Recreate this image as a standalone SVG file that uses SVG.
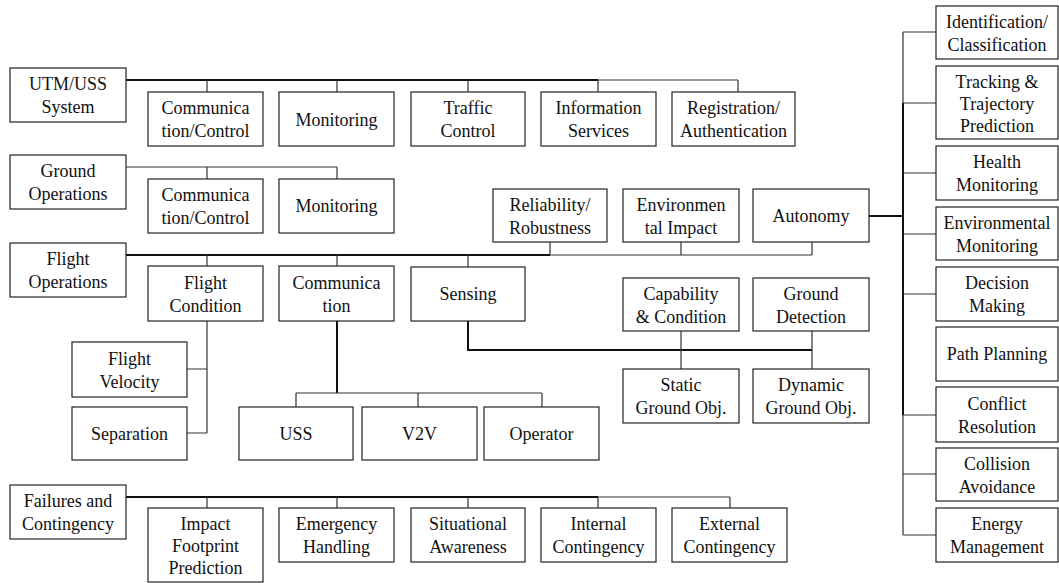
<svg xmlns="http://www.w3.org/2000/svg" width="1059" height="583" viewBox="0 0 1059 583">
<style>
rect{fill:#fff;stroke:#222;stroke-width:1.2}
.bus{fill:none;stroke:#111;stroke-width:2}
.thin{fill:none;stroke:#333;stroke-width:1.2}
</style>
<rect x="0" y="0" width="1059" height="583" style="fill:#fff;stroke:none"/>
<g id="connectors">
<path class="bus" d="M126,80H598"/><path class="thin" d="M598,80H738M207,80V92M337,80V92M468,80V92M598,80V92M738,80V92"/>
<path class="thin" d="M126,167H337M207,167V179M337,167V179"/>
<path class="bus" d="M126,255H550"/><path class="thin" d="M550,255H812M207,255V266M337,255V266M468,255V267M550,255V242M681,255V242M812,255V242"/>
<path class="thin" d="M207,321V433M187,369H207M187,433H207"/>
<path class="bus" d="M337,321V393"/><path class="thin" d="M296,393H542M296,393V407M418,393V407M542,393V407"/>
<path class="bus" d="M468,321V350H812"/><path class="thin" d="M681,331V369M812,331V369"/>
<path class="bus" d="M869,216H903M903,103V415"/><path class="thin" d="M903,32V103M903,415V535M903,32H936M903,103H936M903,173H936M903,234H936M903,294H936M903,415H936M903,474H936M903,535H936"/>
<path class="bus" d="M126,497H598"/><path class="thin" d="M598,497H730M207,497V508M337,497V508M468,497V508M598,497V508M730,497V508"/>
</g>
<g id="nodes" font-family="Liberation Serif, Times New Roman, Times, serif" font-size="18" fill="#111" text-anchor="middle">
<g id="utm"><rect x="10" y="68" width="116" height="54"/><text x="68" y="90">UTM/USS</text><text x="68" y="113">System</text></g>
<g id="utm-comm"><rect x="148" y="92" width="115" height="54"/><text x="205.5" y="114">Communica</text><text x="205.5" y="137">tion/Control</text></g>
<g id="utm-mon"><rect x="279" y="92" width="115" height="54"/><text x="336.5" y="126">Monitoring</text></g>
<g id="utm-traffic"><rect x="411" y="92" width="114" height="54"/><text x="468" y="114">Traffic</text><text x="468" y="137">Control</text></g>
<g id="utm-info"><rect x="541" y="92" width="115" height="54"/><text x="598.5" y="114">Information</text><text x="598.5" y="137">Services</text></g>
<g id="utm-reg"><rect x="672" y="92" width="123" height="54"/><text x="733.5" y="114">Registration/</text><text x="733.5" y="137">Authentication</text></g>
<g id="ground"><rect x="10" y="155" width="116" height="54"/><text x="68" y="177">Ground</text><text x="68" y="200">Operations</text></g>
<g id="ground-comm"><rect x="148" y="179" width="115" height="54"/><text x="205.5" y="201">Communica</text><text x="205.5" y="224">tion/Control</text></g>
<g id="ground-mon"><rect x="279" y="179" width="115" height="54"/><text x="336.5" y="212">Monitoring</text></g>
<g id="flight"><rect x="10" y="243" width="116" height="54"/><text x="68" y="265">Flight</text><text x="68" y="288">Operations</text></g>
<g id="flight-cond"><rect x="148" y="266" width="115" height="55"/><text x="205.5" y="289">Flight</text><text x="205.5" y="312">Condition</text></g>
<g id="flight-comm"><rect x="279" y="266" width="115" height="55"/><text x="336.5" y="289">Communica</text><text x="336.5" y="312">tion</text></g>
<g id="sensing"><rect x="411" y="267" width="114" height="54"/><text x="468" y="300">Sensing</text></g>
<g id="reliability"><rect x="493" y="189" width="114" height="53"/><text x="550" y="211">Reliability/</text><text x="550" y="234">Robustness</text></g>
<g id="env-impact"><rect x="623" y="189" width="116" height="53"/><text x="681" y="211">Environmen</text><text x="681" y="234">tal Impact</text></g>
<g id="autonomy"><rect x="753" y="189" width="116" height="53"/><text x="811" y="222">Autonomy</text></g>
<g id="capability"><rect x="623" y="278" width="116" height="53"/><text x="681" y="300">Capability</text><text x="681" y="323">&amp; Condition</text></g>
<g id="ground-det"><rect x="753" y="278" width="116" height="53"/><text x="811" y="300">Ground</text><text x="811" y="323">Detection</text></g>
<g id="static"><rect x="623" y="369" width="116" height="54"/><text x="681" y="391">Static</text><text x="681" y="414">Ground Obj.</text></g>
<g id="dynamic"><rect x="753" y="369" width="116" height="54"/><text x="811" y="391">Dynamic</text><text x="811" y="414">Ground Obj.</text></g>
<g id="flight-vel"><rect x="72" y="342" width="115" height="55"/><text x="129.5" y="365">Flight</text><text x="129.5" y="388">Velocity</text></g>
<g id="separation"><rect x="72" y="407" width="115" height="53"/><text x="129.5" y="440">Separation</text></g>
<g id="uss"><rect x="239" y="407" width="114" height="53"/><text x="296" y="440">USS</text></g>
<g id="v2v"><rect x="362" y="407" width="115" height="53"/><text x="419.5" y="440">V2V</text></g>
<g id="operator"><rect x="484" y="407" width="115" height="53"/><text x="541.5" y="440">Operator</text></g>
<g id="failures"><rect x="10" y="485" width="116" height="54"/><text x="68" y="507">Failures and</text><text x="68" y="530">Contingency</text></g>
<g id="impact"><rect x="148" y="508" width="115" height="74"/><text x="205.5" y="530">Impact</text><text x="205.5" y="552">Footprint</text><text x="205.5" y="574">Prediction</text></g>
<g id="emergency"><rect x="279" y="508" width="115" height="54"/><text x="336.5" y="530">Emergency</text><text x="336.5" y="553">Handling</text></g>
<g id="situational"><rect x="411" y="508" width="114" height="54"/><text x="468" y="530">Situational</text><text x="468" y="553">Awareness</text></g>
<g id="internal"><rect x="541" y="508" width="115" height="54"/><text x="598.5" y="530">Internal</text><text x="598.5" y="553">Contingency</text></g>
<g id="external"><rect x="672" y="508" width="115" height="54"/><text x="729.5" y="530">External</text><text x="729.5" y="553">Contingency</text></g>
<g id="ident"><rect x="936" y="6" width="122" height="53"/><text x="997" y="28">Identification/</text><text x="997" y="51">Classification</text></g>
<g id="tracking"><rect x="936" y="66" width="122" height="73"/><text x="997" y="88">Tracking &amp;</text><text x="997" y="110">Trajectory</text><text x="997" y="132">Prediction</text></g>
<g id="health"><rect x="936" y="146" width="122" height="54"/><text x="997" y="168">Health</text><text x="997" y="191">Monitoring</text></g>
<g id="env-mon"><rect x="936" y="207" width="122" height="53"/><text x="997" y="229">Environmental</text><text x="997" y="252">Monitoring</text></g>
<g id="decision"><rect x="936" y="267" width="122" height="54"/><text x="997" y="289">Decision</text><text x="997" y="312">Making</text></g>
<g id="path"><rect x="936" y="327" width="122" height="54"/><text x="997" y="360">Path Planning</text></g>
<g id="conflict"><rect x="936" y="387" width="122" height="55"/><text x="997" y="410">Conflict</text><text x="997" y="433">Resolution</text></g>
<g id="collision"><rect x="936" y="448" width="122" height="53"/><text x="997" y="470">Collision</text><text x="997" y="493">Avoidance</text></g>
<g id="energy"><rect x="936" y="508" width="122" height="54"/><text x="997" y="530">Energy</text><text x="997" y="553">Management</text></g>
</g>
</svg>
